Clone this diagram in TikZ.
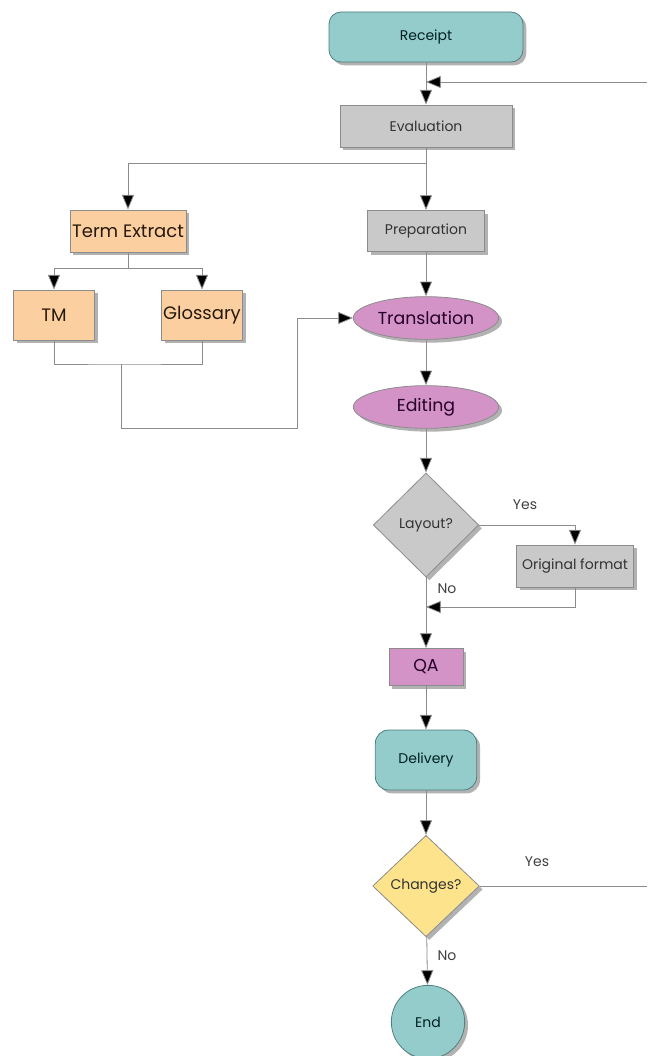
\documentclass[tikz,border=0pt]{standalone}
\usepackage{fontspec}
\setmainfont{Poppins}
\usetikzlibrary{shapes.geometric,shadows,arrows.meta}
\definecolor{tealfill}{HTML}{94CCCC}
\definecolor{tealline}{HTML}{4F7F80}
\definecolor{greyfill}{HTML}{C9C9C9}
\definecolor{orangefill}{HTML}{FBCFA0}
\definecolor{pinkfill}{HTML}{D393C7}
\definecolor{yellowfill}{HTML}{FCE38C}
\definecolor{wire}{HTML}{8C8C8C}
\begin{document}
\begin{tikzpicture}[x=0.75pt,y=-0.75pt]
    \tikzstyle{base}=[draw=black!45, line width=0.6pt, inner sep=1pt,
                      font=\fontsize{10.5}{12}\selectfont,
                      drop shadow={shadow xshift=2.5pt, shadow yshift=-2.5pt,
                                   fill=black, opacity=0.3}]
    \tikzstyle{rounded}=[base, rectangle, rounded corners=9pt, fill=tealfill,
                         draw=tealline, text=black!75!teal]
    \tikzstyle{greybox}=[base, rectangle, fill=greyfill, text=black!80]
    \tikzstyle{orangebox}=[base, rectangle, fill=orangefill, text=black!80!brown,
                           font=\fontsize{13.5}{15}\selectfont]
    \tikzstyle{oval}=[base, ellipse, fill=pinkfill, text=black!70!violet,
                      minimum width=109pt, minimum height=32pt,
                      font=\fontsize{13}{15}\selectfont]
    \tikzstyle{decision}=[base, diamond, inner sep=0pt, text=black!80]
    \tikzstyle{line}=[draw=wire, line width=0.6pt]
    \tikzstyle{arrow}=[line, -{Triangle[width=9pt,length=11pt,fill=black]}]
    \tikzstyle{answer}=[font=\fontsize{10.5}{12}\selectfont, text=black!75]

    \useasboundingbox (0,0) rectangle (647,1056);

    % main column
    \node[rounded, minimum width=145.5pt, minimum height=37.5pt] (receipt) at (426,37) {Receipt};
    \node[greybox, minimum width=129pt, minimum height=31.5pt] (eval) at (426,126) {Evaluation};
    \node[greybox, minimum width=88pt, minimum height=31pt] (prep) at (426,231) {Preparation};
    \node[oval] (trans) at (426,318) {Translation};
    \node[oval] (edit) at (426,407) {Editing};
    \node[decision, fill=greyfill, minimum width=79pt, minimum height=78pt] (layout) at (426,525) {Layout?};
    \node[greybox, minimum width=88pt, minimum height=31.5pt] (orig) at (575,566) {Original format};
    \node[base, rectangle, fill=pinkfill, text=black!70!violet, font=\fontsize{13}{15}\selectfont,
          minimum width=55.5pt, minimum height=28pt] (qa) at (426,667) {QA};
    \node[rounded, rounded corners=10pt, minimum width=76pt, minimum height=45pt] (deliv) at (426,760) {Delivery};
    \node[decision, fill=yellowfill, minimum width=80pt, minimum height=76pt] (changes) at (426,886) {Changes?};
    \node[base, circle, fill=tealfill, draw=tealline, text=black!75!teal,
          minimum size=55pt] (end) at (428,1022) {End};

    % left branch
    \node[orangebox, minimum width=87pt, minimum height=31.5pt] (extract) at (128,231) {Term Extract};
    \node[orangebox, minimum width=61pt, minimum height=37.5pt] (tm) at (54,315) {TM};
    \node[orangebox, minimum width=61pt, minimum height=37.5pt] (gloss) at (202,315) {Glossary};

    \node[answer] (yes1) at (525,505) {Yes};
    \node[answer] (no1) at (447,589) {No};
    \node[answer] (yes2) at (537,862) {Yes};
    \node[answer] (no2) at (447,956) {No};

    \coordinate (loopin) at (647,82);
    \coordinate (merge) at (426,82);
    \coordinate (split) at (426,163);
    \coordinate (tsplit) at (128,268);
    \coordinate (join) at (121,364);
    \coordinate (bend) at (297,428);
    \coordinate (back) at (426,607);
    \coordinate (loopout) at (647,886);

    \draw[arrow] (receipt) -- (eval);
    \draw[arrow] (loopin) -- (merge);
    \draw[line] (eval) -- (split);
    \draw[arrow] (split) -| (extract);
    \draw[arrow] (split) -- (prep);
    \draw[line] (extract) -- (tsplit);
    \draw[arrow] (tsplit) -| (tm);
    \draw[arrow] (tsplit) -| (gloss);
    \draw[line] (tm) |- (join) -| (gloss);
    \draw[arrow] (join) |- (bend) |- (trans);
    \path[arrow] (prep) edge (trans)
                 (trans) edge (edit)
                 (edit) edge (layout)
                 (layout) edge (qa)
                 (qa) edge (deliv)
                 (deliv) edge (changes)
                 (changes) edge (end);
    \draw[arrow] (layout.east) -| (orig);
    \draw[arrow] (orig) |- (back);
    \draw[line] (changes.east) -- (loopout);
\end{tikzpicture}
\end{document}
